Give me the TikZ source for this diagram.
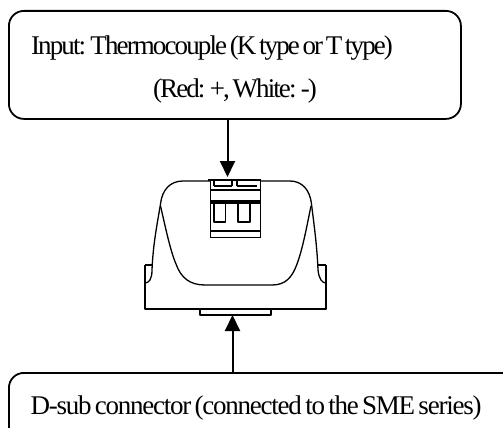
\documentclass[tikz,border=0pt]{standalone}
\usepackage{fontspec}
\setmainfont[LetterSpace=-7,WordSpace=0.55]{Liberation Serif}
\newfontfamily\widerfont[LetterSpace=-4.6,WordSpace=0.6]{Liberation Serif}
\usetikzlibrary{arrows.meta,calc}
\tikzset{
  callout/.style={draw=black,line width=1.8pt,rounded corners=15pt,fill=white,inner sep=0pt,anchor=north west},
  label/.style={inner sep=0pt,font=\fontsize{27}{27}\selectfont,anchor=base},
  flow/.style={draw=black,line width=2pt,-{Triangle[length=16pt,width=15pt]}},
  outline/.style={draw=black,line width=1.3pt,line join=round},
  heavy/.style={draw=black,line width=1.7pt}
}
\begin{document}
\begin{tikzpicture}[x=1pt,y=-1pt]
\useasboundingbox (0,0) rectangle (503,428);
\clip (0,0) rectangle (503,428);
\node[callout,minimum width=452pt,minimum height=108pt] (top) at (8,10) {};
\node[callout,minimum width=540pt,minimum height=100pt] (bot) at (8,372) {};
\node[label] (t1) at (212,55) {Input: Thermocouple (K type or T type)};
\node[label] (t2) at (235,97) {(Red: +, White: -)};
\node[label] (t3) at (256,414) {\widerfont D-sub connector (connected to the SME series)};
% device body
\draw[outline] (145,265) -- (145,309) -- (326,309) -- (326,265);
\draw[outline] (145,265) -- (152,265);
\draw[outline] (326,265) -- (318,265);
\draw[outline] (145,283) .. controls (149,283) and (152,279) .. (152,270) .. controls (153,245) and (157,225) .. (160.5,204)
  .. controls (162,190) and (170,181) .. (183,181) -- (210,181);
\draw[outline] (326,283) .. controls (322,283) and (319,279) .. (318,270) .. controls (317,245) and (314,225) .. (311.5,204)
  .. controls (310,190) and (302,181) .. (290,181) -- (261,181);
\draw[outline] (160.5,206) .. controls (165,225) and (170,250) .. (176,264)
  .. controls (181,278) and (190,285) .. (205,285) -- (272,285)
  .. controls (285,285) and (292,278) .. (297,264) .. controls (303,248) and (307,225) .. (311,206);
\draw[outline] (200,309) -- (200,315) -- (271,315) -- (271,309);
% terminal block
\draw[heavy] (208,180) -- (261,180);
\draw[heavy] (210.5,180) rectangle (260.5,237.5);
\draw[outline] (211,190) -- (260,190);
\draw[outline] (211,201) -- (260,201);
\draw[outline] (211,203) -- (260,203);
\draw[outline] (211,231) -- (260,231);
\draw[outline] (214,180) -- (214,186);
\draw[outline] (232,181) -- (232,186);
\draw[outline] (237,181) -- (237,186);
\draw[outline] (214,186) -- (232,186);
\draw[outline] (237,186) -- (257,186);
\draw[outline] (214,203) rectangle (225.5,222);
\draw[outline] (238,203) rectangle (250,222);
% connectors
\coordinate (topin) at (227.5,177);
\coordinate (botin) at (232.5,315);
\draw[flow] (top.south -| topin) -- (topin);
\draw[flow] (bot.north -| botin) -- (botin);
\end{tikzpicture}
\end{document}
